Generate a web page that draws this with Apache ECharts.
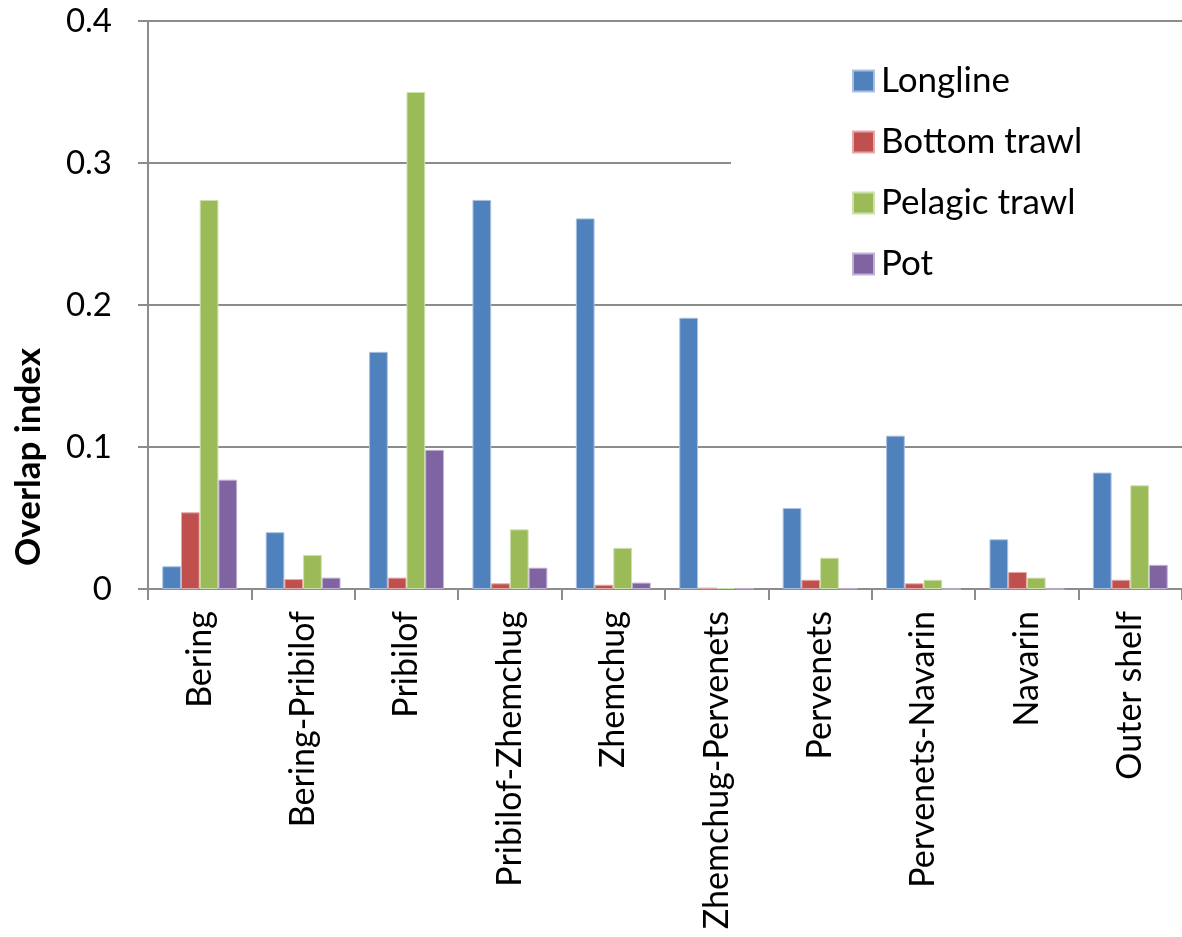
<!DOCTYPE html>
<html>
<head>
<meta charset="utf-8">
<script src="https://cdn.jsdelivr.net/npm/echarts@6/dist/echarts.min.js"></script>
<style>
  html, body { margin: 0; padding: 0; background: #ffffff; }
  #chart { width: 1182px; height: 937px; }
</style>
</head>
<body>
<div id="chart"></div>
<script>
// Regions along the shelf edge
const categories = ['Bering', 'Bering-Pribilof', 'Pribilof', 'Pribilof-Zhemchug', 'Zhemchug',
  'Zhemchug-Pervenets', 'Pervenets', 'Pervenets-Navarin', 'Navarin', 'Outer shelf'];

// Overlap index per gear type
const longline     = [0.016, 0.040, 0.167, 0.274, 0.261, 0.191, 0.057, 0.108, 0.035, 0.082];
const bottomTrawl  = [0.054, 0.007, 0.008, 0.004, 0.003, 0.001, 0.0065, 0.004, 0.012, 0.0065];
const pelagicTrawl = [0.274, 0.024, 0.350, 0.042, 0.029, 0.0007, 0.022, 0.0065, 0.008, 0.073];
const pot          = [0.077, 0.008, 0.098, 0.015, 0.0045, 0.0005, 0.0005, 0, 0, 0.017];

const seriesNames = ['Longline', 'Bottom trawl', 'Pelagic trawl', 'Pot'];
const seriesData = [longline, bottomTrawl, pelagicTrawl, pot];
const colors = ['#4F81BD', '#C0504D', '#9BBB59', '#8064A2'];
const edgeColors = ['#a9c0e0', '#e3a9a7', '#cde0ad', '#c0b2d3'];

const yTicks = { min: 0, max: 0.4, interval: 0.1 };

const FONT = 'Lato, "Open Sans", sans-serif';
const gridGray = '#8c8c8c';

const chart = echarts.init(document.getElementById('chart'), null, { renderer: 'canvas' });

chart.setOption({
  animation: false,
  backgroundColor: '#ffffff',
  color: colors,
  grid: { left: 148, right: 0, top: 21, bottom: 348, containLabel: false },
  legend: {
    orient: 'vertical',
    left: 731,
    top: 53,
    padding: [8, 120, 8, 121],
    backgroundColor: '#ffffff',
    itemWidth: 21,
    itemHeight: 21,
    itemGap: 21,
    icon: 'rect',
    data: seriesNames,
    textStyle: {
      fontFamily: FONT,
      fontSize: 35,
      color: '#000000',
      lineHeight: 40,
      padding: [0, 0, 0, 2]
    }
  },
  xAxis: {
    type: 'category',
    data: categories,
    axisLine: { show: true, lineStyle: { color: gridGray, width: 2 } },
    axisTick: { show: true, length: 11, lineStyle: { color: gridGray, width: 2 } },
    axisLabel: {
      rotate: 90,
      margin: 22,
      interval: 0,
      fontFamily: FONT,
      fontSize: 34,
      color: '#000000'
    },
    splitLine: { show: false }
  },
  yAxis: {
    type: 'value',
    min: yTicks.min,
    max: yTicks.max,
    interval: yTicks.interval,
    axisLine: { show: true, lineStyle: { color: gridGray, width: 2 } },
    axisTick: { show: true, length: 10, lineStyle: { color: gridGray, width: 2 } },
    axisLabel: {
      margin: 36,
      fontFamily: FONT,
      fontSize: 33,
      color: '#000000'
    },
    splitLine: { show: true, lineStyle: { color: gridGray, width: 2 } }
  },
  graphic: [{
    type: 'text',
    x: 29,
    y: 457,
    rotation: Math.PI / 2,
    style: {
      text: 'Overlap index',
      font: 'bold 35px ' + FONT,
      fill: '#000000',
      align: 'center',
      verticalAlign: 'middle'
    }
  }],
  series: seriesNames.map((name, i) => ({
    name: name,
    type: 'bar',
    data: seriesData[i],
    barGap: '0%',
    barCategoryGap: '27.6%',
    itemStyle: { color: colors[i], borderColor: edgeColors[i], borderWidth: 1 }
  }))
});
</script>
</body>
</html>
